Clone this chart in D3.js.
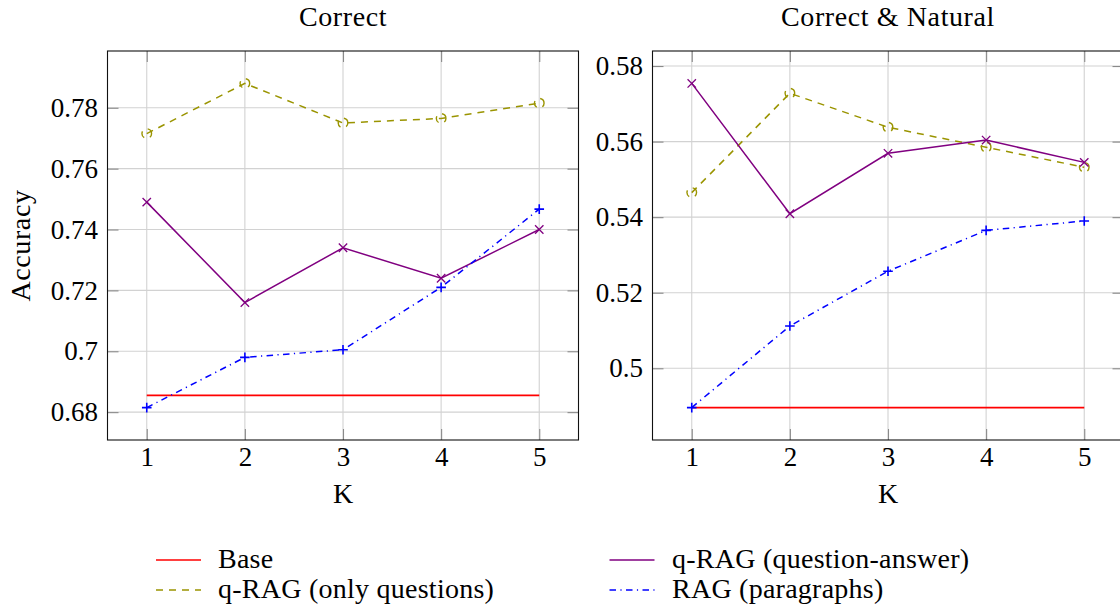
<!DOCTYPE html>
<html>
<head>
<meta charset="utf-8">
<script src="https://cdn.jsdelivr.net/npm/d3@7"></script>
<style>
  html, body { margin: 0; padding: 0; background: #fff; }
  svg text { font-family: "Liberation Serif", "Times New Roman", serif; fill: #000; }
</style>
</head>
<body>
<svg id="chart" width="1120" height="605"></svg>
<script>
// ---- data ----
const K = [1, 2, 3, 4, 5];

const titles = ["Correct", "Correct & Natural"];

// Panel 1: Correct
const baseCorrect      = [0.6855, 0.6855, 0.6855, 0.6855, 0.6855];
const qOnlyCorrect     = [0.7715, 0.7880, 0.7750, 0.7765, 0.7815];
const qaCorrect        = [0.7490, 0.7160, 0.7340, 0.7240, 0.7400];
const ragCorrect       = [0.6815, 0.6980, 0.7005, 0.7210, 0.7467];
const yTicksCorrect    = [0.68, 0.70, 0.72, 0.74, 0.76, 0.78];
const yLabelsCorrect   = ["0.68", "0.7", "0.72", "0.74", "0.76", "0.78"];

// Panel 2: Correct & Natural
const baseNatural      = [0.4896, 0.4896, 0.4896, 0.4896, 0.4896];
const qOnlyNatural     = [0.5465, 0.5728, 0.5638, 0.5585, 0.5532];
const qaNatural        = [0.5754, 0.5409, 0.5569, 0.5604, 0.5545];
const ragNatural       = [0.4896, 0.5112, 0.5257, 0.5365, 0.5390];
const yTicksNatural    = [0.50, 0.52, 0.54, 0.56, 0.58];
const yLabelsNatural   = ["0.5", "0.52", "0.54", "0.56", "0.58"];

const seriesNames = ["Base", "q-RAG (only questions)", "q-RAG (question-answer)", "RAG (paragraphs)"];

// ---- styles ----
const styles = [
  { color: "#ff0000", dash: null,          mark: "none" },
  { color: "#9a9400", dash: "7,6",         mark: "circle" },
  { color: "#800080", dash: null,          mark: "x" },
  { color: "#0000ff", dash: "6.5,4.4,1.2,4.4", mark: "plus" }
];

const panels = [
  { title: titles[0], series: [baseCorrect, qOnlyCorrect, qaCorrect, ragCorrect], yTicks: yTicksCorrect, yLabels: yLabelsCorrect, left: 107.5 },
  { title: titles[1], series: [baseNatural, qOnlyNatural, qaNatural, ragNatural], yTicks: yTicksNatural, yLabels: yLabelsNatural, left: 652.5 }
];

const svg = d3.select("#chart");
const PW = 471, yTop = 51, yBot = 440;
const FS = 28, FT = 27, LS = 0.6, LSL = 0.25;

panels.forEach((p, pi) => {
  const g = svg.append("g");
  const x = d3.scaleLinear().domain([0.6, 5.4]).range([p.left, p.left + PW]);
  const all = p.series.flat();
  const mn = d3.min(all), mx = d3.max(all), r = mx - mn;
  const y = d3.scaleLinear().domain([mn - 0.1 * r, mx + 0.1 * r]).range([yBot, yTop]);

  // grid
  g.append("g").selectAll("line").data(K).join("line")
    .attr("x1", d => x(d)).attr("x2", d => x(d)).attr("y1", yTop).attr("y2", yBot)
    .attr("stroke", "#d2d2d2").attr("stroke-width", 1.1);
  g.append("g").selectAll("line").data(p.yTicks).join("line")
    .attr("x1", p.left).attr("x2", p.left + PW).attr("y1", d => y(d)).attr("y2", d => y(d))
    .attr("stroke", "#d2d2d2").attr("stroke-width", 1.1);

  // ticks (inside, both sides) via d3 axes
  const tl = 11;
  const axL = g.append("g").attr("transform", `translate(${p.left},0)`)
    .call(d3.axisLeft(y).tickValues(p.yTicks).tickSize(-tl).tickFormat((d, i) => p.yLabels[i]).tickPadding(9.5));
  const axR = g.append("g").attr("transform", `translate(${p.left + PW},0)`)
    .call(d3.axisRight(y).tickValues(p.yTicks).tickSize(-tl).tickFormat(""));
  const axB = g.append("g").attr("transform", `translate(0,${yBot})`)
    .call(d3.axisBottom(x).tickValues(K).tickSize(-tl).tickFormat(d3.format("d")).tickPadding(7));
  const axT = g.append("g").attr("transform", `translate(0,${yTop})`)
    .call(d3.axisTop(x).tickValues(K).tickSize(-tl).tickFormat(""));
  [axL, axR, axB, axT].forEach(a => {
    a.select(".domain").remove();
    a.selectAll(".tick line").attr("stroke", "#8a8a8a").attr("stroke-width", 1.1);
    a.selectAll(".tick text").attr("font-size", FT).attr("font-family", "Liberation Serif").attr("fill", "#000");
  });
  axB.selectAll(".tick text").attr("dy", "0.71em");

  // frame
  g.append("rect").attr("x", p.left).attr("y", yTop).attr("width", PW).attr("height", yBot - yTop)
    .attr("fill", "none").attr("stroke", "#111").attr("stroke-width", 1.1);

  // series
  p.series.forEach((vals, si) => {
    const st = styles[si];
    const pts = vals.map((v, i) => [x(K[i]), y(v)]);
    g.append("path").attr("d", d3.line()(pts)).attr("fill", "none")
      .attr("stroke", st.color).attr("stroke-width", si === 0 ? 1.7 : 1.5)
      .attr("stroke-dasharray", st.dash);
    const m = g.append("g");
    pts.forEach(([px, py]) => {
      if (st.mark === "x") {
        const s = 4.2;
        m.append("path").attr("d", `M${px - s},${py - s}L${px + s},${py + s}M${px - s},${py + s}L${px + s},${py - s}`)
          .attr("stroke", st.color).attr("stroke-width", 1.3).attr("fill", "none");
      } else if (st.mark === "plus") {
        const s = 4.8;
        m.append("path").attr("d", `M${px - s},${py}L${px + s},${py}M${px},${py - s}L${px},${py + s}`)
          .attr("stroke", st.color).attr("stroke-width", 1.6).attr("fill", "none");
      } else if (st.mark === "circle") {
        m.append("circle").attr("cx", px).attr("cy", py).attr("r", 4.8)
          .attr("fill", "none").attr("stroke", st.color).attr("stroke-width", 1.4)
          .attr("stroke-dasharray", st.dash).attr("stroke-dashoffset", 3);
      }
    });
  });

  // titles and labels
  g.append("text").attr("x", p.left + PW / 2).attr("y", 26).attr("text-anchor", "middle")
    .attr("font-size", FS).attr("letter-spacing", LS).text(p.title);
  g.append("text").attr("x", p.left + PW / 2).attr("y", 503).attr("text-anchor", "middle")
    .attr("font-size", FS).text("K");
  if (pi === 0) {
    g.append("text").attr("transform", `translate(30,${(yTop + yBot) / 2}) rotate(-90)`)
      .attr("text-anchor", "middle").attr("font-size", FS).attr("letter-spacing", LS).text("Accuracy");
  }
});

// legend
const legendPos = [
  { lx: 156, tx: 218, y: 560 },
  { lx: 156, tx: 218, y: 590 },
  { lx: 609.5, tx: 672, y: 560 },
  { lx: 609.5, tx: 672, y: 590 }
];
const lg = svg.append("g");
seriesNames.forEach((name, i) => {
  const st = styles[i], pos = legendPos[i];
  lg.append("line").attr("x1", pos.lx).attr("x2", pos.lx + 45).attr("y1", pos.y).attr("y2", pos.y)
    .attr("stroke", st.color).attr("stroke-width", 1.7).attr("stroke-dasharray", st.dash);
  lg.append("text").attr("x", pos.tx).attr("y", pos.y + 8).attr("font-size", FS)
    .attr("letter-spacing", LSL).text(name);
});
</script>
</body>
</html>
